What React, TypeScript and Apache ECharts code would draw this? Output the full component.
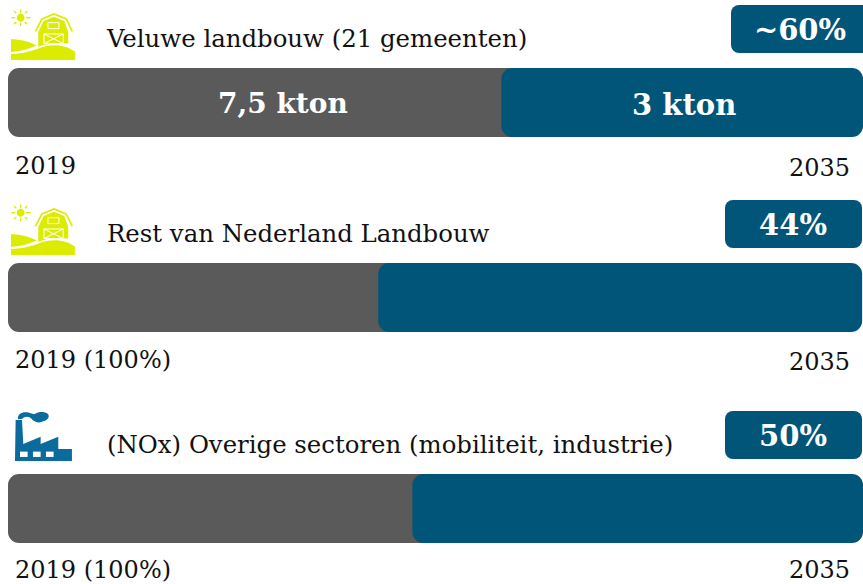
import React, { useEffect, useRef } from "react";
import * as echarts from "echarts";

const rows = ["Veluwe", "Rest", "Overig"];
const titles = ["Veluwe landbouw (21 gemeenten)", "Rest van Nederland Landbouw", "(NOx) Overige sectoren (mobiliteit, industrie)"];
const badges = ["~60%", "44%", "50%"];
const startLabels = ["2019", "2019 (100%)", "2019 (100%)"];
const endLabels = ["2035", "2035", "2035"];
const greyValues = [64.3, 50, 52];
const blueStart = [57.7, 43.3, 47.3];
const blueValues = [42.3, 56.6, 52.7];
const greyLabels = ["7,5 kton", "", ""];
const blueLabels = ["3 kton", "", ""];

const GREY = "#5a5a5a";
const BLUE = "#005578";
const LIME = "#dcec00";
const FACTORY = "#0a6b9c";
const INK = "#111111";
const FONT = "'DejaVu Serif', serif";

echarts.graphic.registerShape("hillLeft", echarts.graphic.extendPath("M33 118 C60 118 90 125 110 137 C85 148 60 155 33 156 Z", {}));
echarts.graphic.registerShape("hillFront", echarts.graphic.extendPath("M33 162 C70 162 100 152 125 142 C160 130 200 135 225 155 L225 180 L33 180 Z", {}));
echarts.graphic.registerShape("barnBody", echarts.graphic.extendPath("M115 96 L131 63 L162 50 L193 63 L205 96 L205 131 C180 127 150 128 125 137 L115 141 Z", {}));
echarts.graphic.registerShape("factory", echarts.graphic.extendPath("M47 60 L66 60 L70 132 L122 110 L122 132 L175 110 L175 147 L216 147 L216 183 L45 183 Z", {}));
echarts.graphic.registerShape("smoke", echarts.graphic.extendPath("M54 58 C52 42 66 35 82 37 C92 39 98 44 106 41 C116 35 134 34 144 42 C150 50 144 60 130 64 C120 70 104 68 96 58 C90 50 76 46 66 57 Z", {}));

const rays: number[][] = [
  [62, 28, 62, 38], [62, 68, 62, 78], [34, 53, 46, 53], [78, 53, 92, 53],
  [42, 33, 49, 40], [75, 66, 82, 73], [42, 73, 49, 66], [75, 40, 82, 33],
];

const barn = (y: number) => ({
  type: "group", x: 0, y, scaleX: 1 / 3, scaleY: 1 / 3, silent: true,
  children: [
    { type: "circle", shape: { cx: 62, cy: 53, r: 12 }, style: { fill: LIME } },
    ...rays.map((r) => ({ type: "line", shape: { x1: r[0], y1: r[1], x2: r[2], y2: r[3] }, style: { stroke: LIME, lineWidth: 4 } })),
    { type: "hillLeft", style: { fill: LIME } },
    { type: "hillFront", style: { fill: LIME } },
    { type: "polyline", shape: { points: [[106, 94], [126, 57], [162, 42], [199, 57], [217, 94]] }, style: { stroke: LIME, lineWidth: 5, fill: "none" } },
    { type: "barnBody", style: { fill: LIME } },
    { type: "rect", shape: { x: 144, y: 68, width: 33, height: 18 }, style: { stroke: "#fff", lineWidth: 3, fill: LIME } },
    { type: "rect", shape: { x: 132, y: 102, width: 58, height: 29 }, style: { stroke: "#fff", lineWidth: 3, fill: LIME } },
    { type: "line", shape: { x1: 132, y1: 102, x2: 190, y2: 131 }, style: { stroke: "#fff", lineWidth: 3 } },
    { type: "line", shape: { x1: 132, y1: 131, x2: 190, y2: 102 }, style: { stroke: "#fff", lineWidth: 3 } },
  ],
});

const factory = (y: number) => ({
  type: "group", x: 0, y, scaleX: 1 / 3, scaleY: 1 / 3, silent: true,
  children: [
    { type: "factory", style: { fill: FACTORY } },
    { type: "smoke", style: { fill: FACTORY } },
    ...[60, 99, 138].map((x) => ({ type: "rect", shape: { x, y: 155, width: 23, height: 16 }, style: { fill: "#fff" } })),
  ],
});

const barTops = [68, 263, 474];
const barHeight = 69;
const titleY = [38, 233, 444];
const badgeBoxes = [
  { x: 731, y: 5, w: 140, cx: 800 },
  { x: 725, y: 200, w: 137, cx: 793 },
  { x: 725, y: 411, w: 137, cx: 793 },
];
const startY = [166, 360, 570];
const endY = [168, 362, 570];

export default function App() {
  const ref = useRef<HTMLDivElement>(null);
  useEffect(() => {
    const chart = echarts.init(ref.current!, undefined, { renderer: "svg" });
    const text = (t: string, x: number, y: number, size: number, extra: any = {}) => ({
      type: "text", x, y, silent: true,
      style: { text: t, fontFamily: FONT, fontSize: size, fill: INK, textVerticalAlign: "middle", verticalAlign: "middle", ...extra },
    });
    chart.setOption({
      animation: false,
      backgroundColor: "#ffffff",
      grid: rows.map((_, i) => ({ left: 8, width: 855, top: barTops[i], height: barHeight, containLabel: false })),
      xAxis: rows.map((_, i) => ({ gridIndex: i, type: "value", min: 0, max: 100, show: false })),
      yAxis: rows.map((c, i) => ({ gridIndex: i, type: "category", data: [c], show: false })),
      series: rows.flatMap((_, i) => [
        {
          type: "bar", xAxisIndex: i, yAxisIndex: i, barWidth: barHeight, barGap: "-100%", silent: true, z: 2,
          data: [greyValues[i]],
          itemStyle: { color: GREY, borderRadius: 11 },
          label: { show: !!greyLabels[i], position: "inside", offset: [0, 1], formatter: greyLabels[i], color: "#fff", fontFamily: FONT, fontWeight: "bold", fontSize: 28 },
        },
        {
          type: "bar", xAxisIndex: i, yAxisIndex: i, barWidth: barHeight, barGap: "-100%", silent: true, z: 3, stack: "b" + i,
          data: [blueStart[i]],
          itemStyle: { color: "transparent" },
        },
        {
          type: "bar", xAxisIndex: i, yAxisIndex: i, barWidth: barHeight, barGap: "-100%", silent: true, z: 3, stack: "b" + i,
          data: [blueValues[i]],
          itemStyle: { color: BLUE, borderRadius: 11 },
          label: { show: !!blueLabels[i], position: "inside", offset: [2, 2], formatter: blueLabels[i], color: "#fff", fontFamily: FONT, fontWeight: "bold", fontSize: 29 },
        },
      ]),
      graphic: [
        barn(0), barn(195), factory(400),
        ...titles.map((t, i) => text(t, 107, titleY[i], 24.4)),
        ...startLabels.map((t, i) => text(t, 15, startY[i], 24)),
        ...endLabels.map((t, i) => text(t, 850, endY[i], 24, { textAlign: "right", align: "right" })),
        ...badgeBoxes.map((b) => ({ type: "rect", silent: true, shape: { x: b.x, y: b.y, width: b.w, height: 48, r: 8 }, style: { fill: BLUE } })),
        ...badges.map((t, i) => text(t, badgeBoxes[i].cx, badgeBoxes[i].y + 25, 29, { fill: "#fff", fontWeight: "bold", textAlign: "center", align: "center" })),
      ],
    });
    return () => chart.dispose();
  }, []);
  return <div ref={ref} style={{ position: "fixed", left: 0, top: 0, width: 863, height: 584 }} />;
}
